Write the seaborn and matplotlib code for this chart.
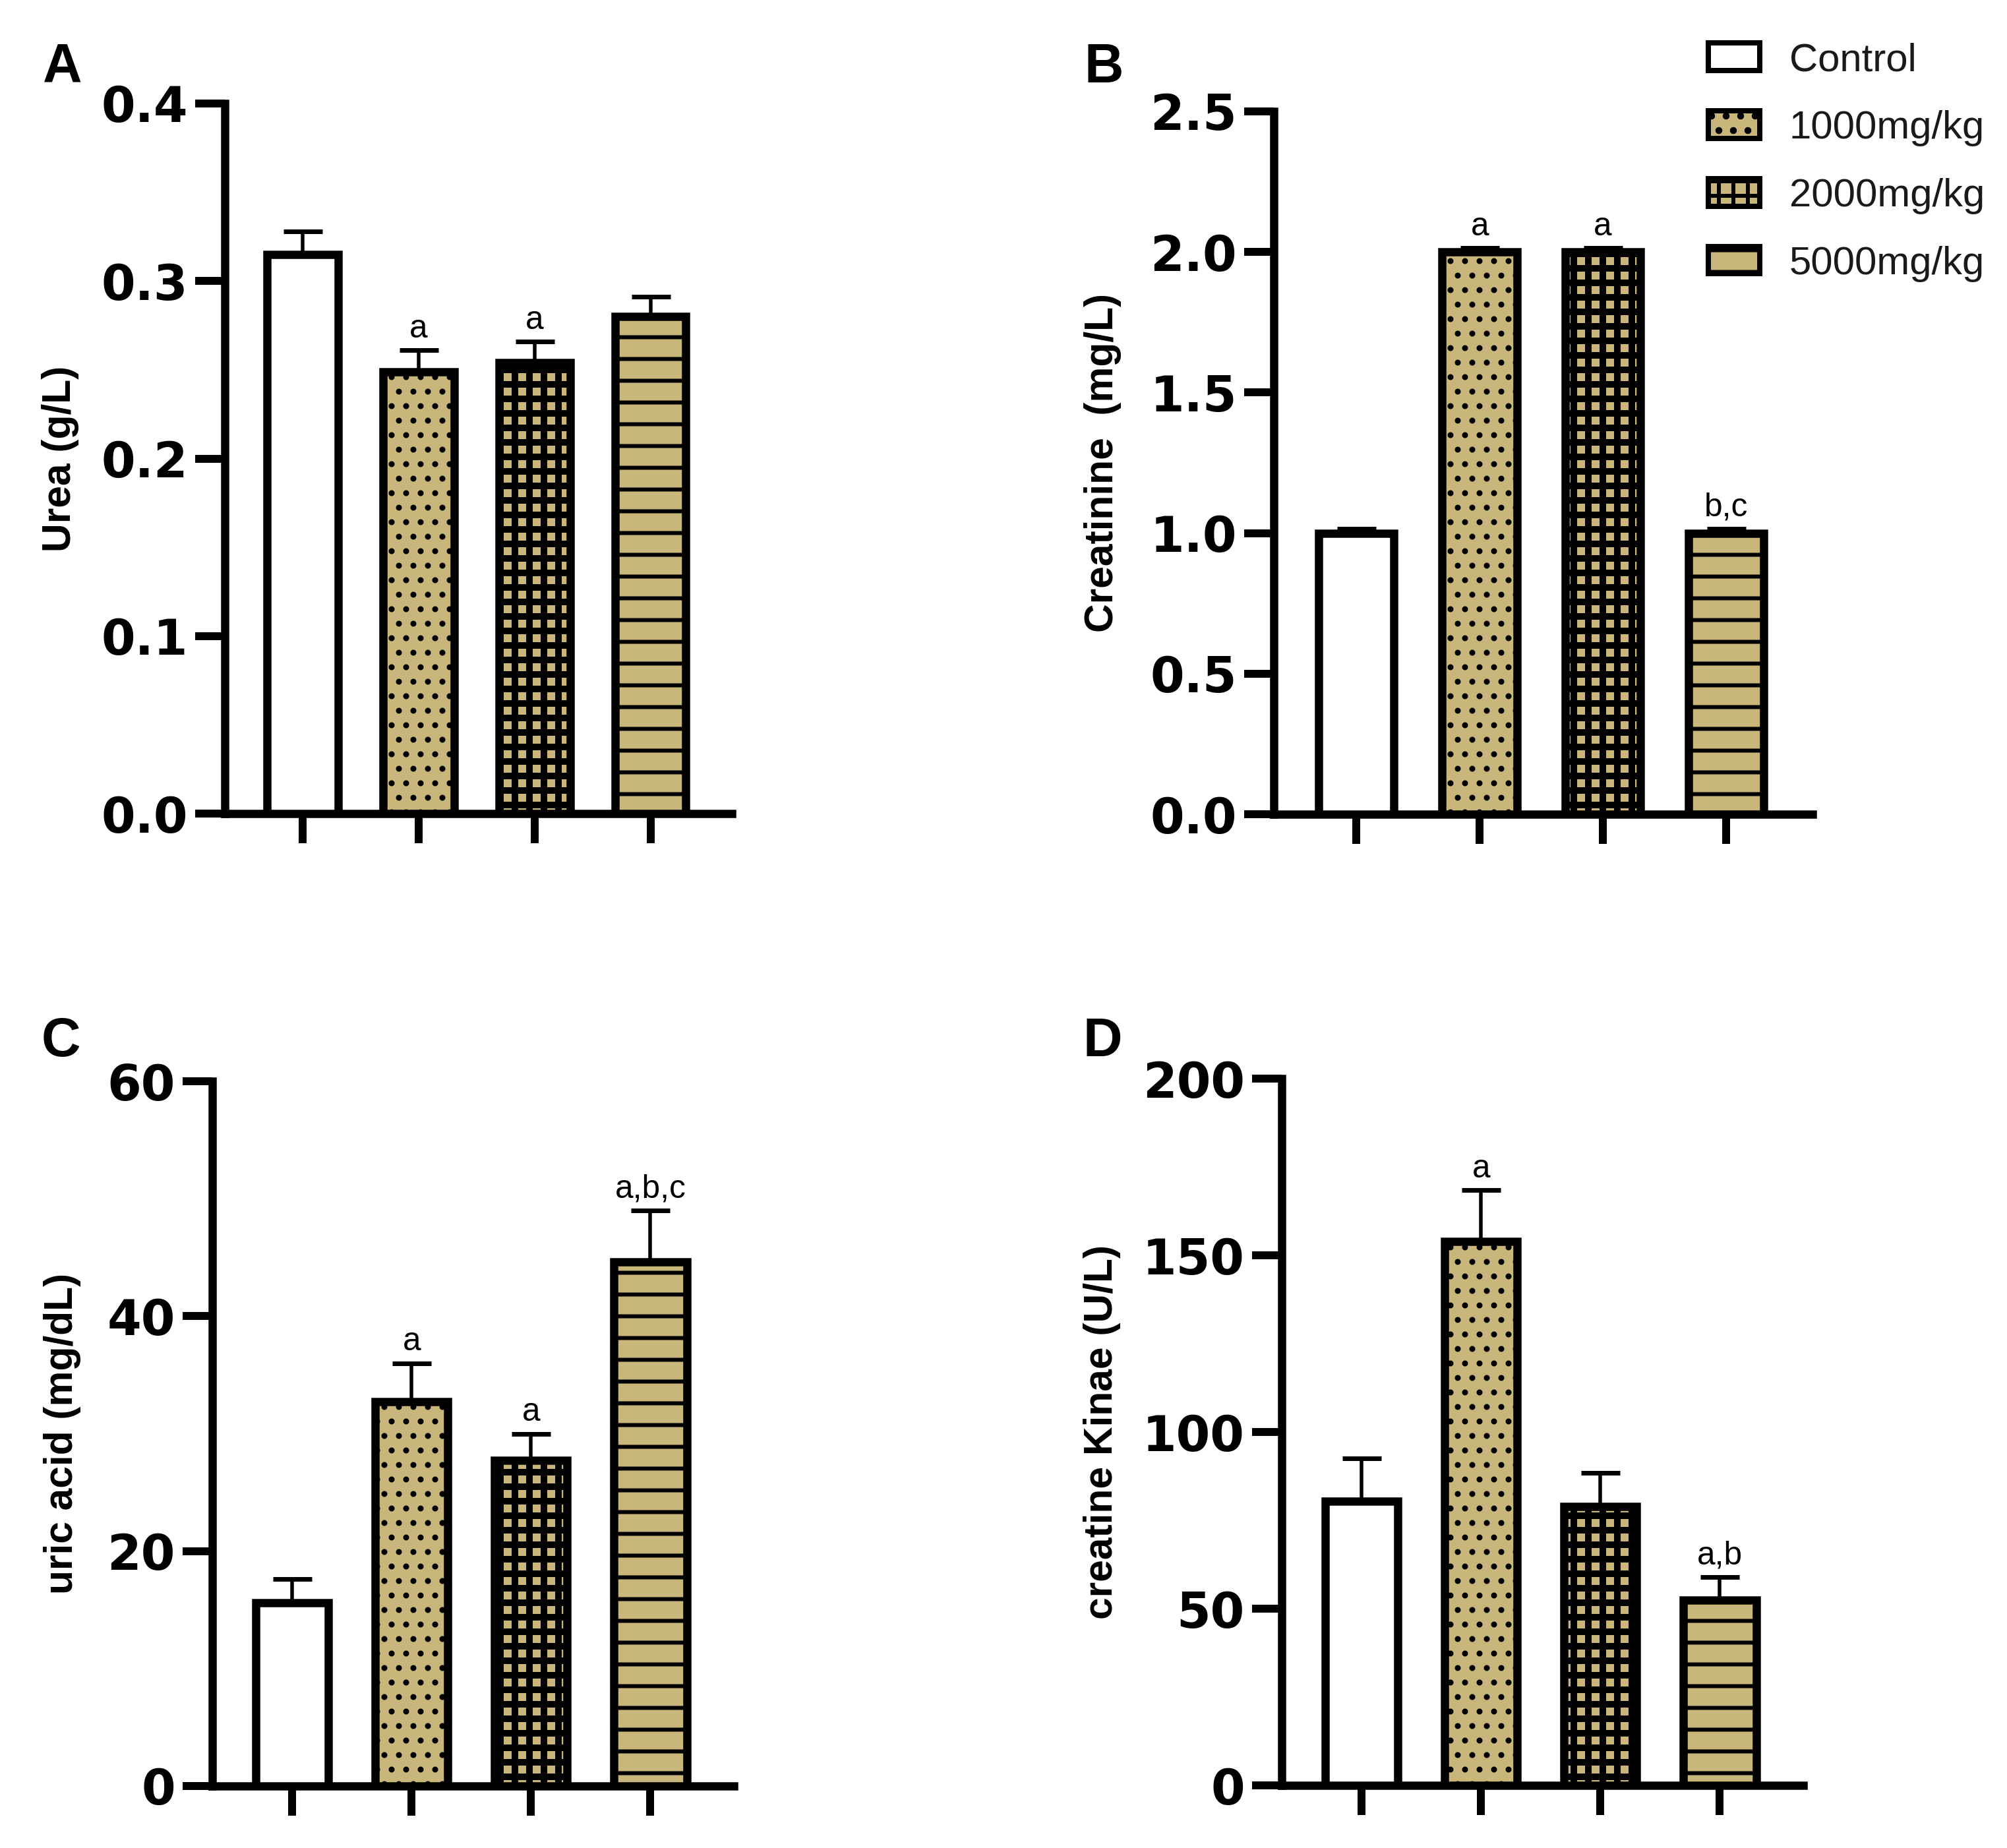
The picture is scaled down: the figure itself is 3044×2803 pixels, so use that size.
import matplotlib
matplotlib.use("Agg")
import matplotlib.pyplot as plt
from matplotlib.patches import Patch
import numpy as np
import pandas as pd
import seaborn as sns

## data (mean and upper SEM)
groups = ["Control", "1000mg/kg", "2000mg/kg", "5000mg/kg"]

urea = [0.315, 0.249, 0.254, 0.280]
urea_err = [0.013, 0.012, 0.012, 0.011]
urea_sig = ["", "a", "a", ""]

creat = [1.0, 2.0, 2.0, 1.0]
creat_err = [0.015, 0.015, 0.015, 0.015]
creat_sig = ["", "a", "a", "b,c"]

uric = [15.6, 32.7, 27.7, 44.6]
uric_err = [2.0, 3.3, 2.3, 4.4]
uric_sig = ["", "a", "a", "a,b,c"]

ck = [80.5, 154.0, 79.0, 52.5]
ck_err = [12.0, 14.5, 9.5, 6.5]
ck_sig = ["", "a", "", "a,b"]

urea_ticks = [0.0, 0.1, 0.2, 0.3, 0.4]
creat_ticks = [0.0, 0.5, 1.0, 1.5, 2.0, 2.5]
uric_ticks = [0, 20, 40, 60]
ck_ticks = [0, 50, 100, 150, 200]

TAN = "#C8B67B"
fills = ["white", TAN, TAN, TAN]
hatches = ["", "...", "+++", "--"]

# size in pixels of the reference -> points
W, H, DPI = 3044, 2803, 396
PT = 72 / DPI

sns.set_theme(style="ticks")
plt.rcParams["font.family"] = ["DejaVu Sans"]
plt.rcParams["hatch.linewidth"] = 6 * PT
for key in ["text.color", "axes.edgecolor", "axes.labelcolor",
            "xtick.color", "ytick.color"]:
    plt.rcParams[key] = "black"

EDGE = 12.5 * PT
BOLD = dict(family="DejaVu Sans", weight="bold")
ARIAL = "Liberation Sans"
hatch_lw = {"": 6, "...": 4.5, "+++": 10, "--": 6}

fig = plt.figure(figsize=(W / DPI, H / DPI), dpi=DPI)


def px_rect(left, right, top, bottom):
    return [left / W, 1 - bottom / H, (right - left) / W, (bottom - top) / H]


panels = [
    ("A", urea, urea_err, urea_sig, "Urea (g/L)", urea_ticks, "{:.1f}",
     px_rect(341, 1110, 157, 1234), (65, 125), -0.324),
    ("B", creat, creat_err, creat_sig, "Creatinine  (mg/L)", creat_ticks, "{:.1f}",
     px_rect(1932, 2749, 169, 1235), (1645, 125), -0.318),
    ("C", uric, uric_err, uric_sig, "uric acid (mg/dL)", uric_ticks, "{:d}",
     px_rect(322, 1113, 1640, 2709), (63, 1602), -0.288),
    ("D", ck, ck_err, ck_sig, "creatine Kinae (U/L)", ck_ticks, "{:d}",
     px_rect(1944, 2735, 1636, 2708), (1642, 1602), -0.344),
]

for letter, vals, errs, sig, ylabel, ticks, fmt, rect, lpos, labx in panels:
    ax = fig.add_axes(rect)
    df = pd.DataFrame({"group": groups, "value": vals})
    sns.barplot(
        data=df, x="group", y="value", hue="group", order=groups,
        hue_order=groups, palette=dict(zip(groups, fills)), saturation=1,
        width=0.61, edgecolor="black", linewidth=EDGE, errorbar=None,
        legend=False, ax=ax, zorder=3,
    )
    for patch, h in zip(ax.patches, hatches):
        patch.set_hatch(h)
        if hasattr(patch, "set_hatch_linewidth"):
            patch.set_hatch_linewidth(hatch_lw[h] * PT)
    ax.errorbar(
        np.arange(len(groups)), vals, yerr=[np.zeros(len(vals)), errs],
        fmt="none", ecolor="black", elinewidth=5.5 * PT, capsize=29.5 * PT,
        capthick=7 * PT, zorder=2.5,
    )
    for i, (v, e, s) in enumerate(zip(vals, errs, sig)):
        if s:
            ax.annotate(s, (i, v + e), xytext=(0, 3.5), textcoords="offset points",
                        ha="center", va="baseline", fontsize=9, family=ARIAL)

    ax.set_xlim(-0.67, 3.70)
    ax.set_ylim(ticks[0], ticks[-1])
    ax.set_yticks(ticks)
    ax.set_yticklabels([fmt.format(t) for t in ticks], fontsize=13.5, **BOLD)
    ax.set_xlabel("")
    ax.set_ylabel(ylabel, fontsize=11, family=ARIAL, weight="bold", va="center")
    ax.yaxis.set_label_coords(labx, 0.5)
    sns.despine(ax=ax)
    for side in ["left", "bottom"]:
        ax.spines[side].set_linewidth(EDGE)
    ax.tick_params(axis="both", length=45 * PT, width=12 * PT, color="black", pad=2)
    ax.tick_params(axis="x", labelbottom=False)
    ax.set_facecolor("none")

    fig.text(lpos[0] / W, 1 - lpos[1] / H, letter, fontsize=15, family=ARIAL,
             weight="bold", va="baseline", ha="left")

handles = []
for f, h in zip(fills, hatches):
    hp = Patch(facecolor=f, edgecolor="black", hatch=h, linewidth=8 * PT)
    if hasattr(hp, "set_hatch_linewidth"):
        hp.set_hatch_linewidth(hatch_lw[h] * PT)
    handles.append(hp)
fig.legend(
    handles, groups, loc="upper left", bbox_to_anchor=(2591 / W, 1 - 64 / H),
    frameon=False, borderpad=0, borderaxespad=0, handlelength=1.3,
    handleheight=0.68, handletextpad=0.75, labelspacing=0.8,
    prop=dict(family=ARIAL, size=10.9), labelcolor="#1a1a1a",
)

fig.savefig("out.png", dpi=DPI, facecolor="white")
